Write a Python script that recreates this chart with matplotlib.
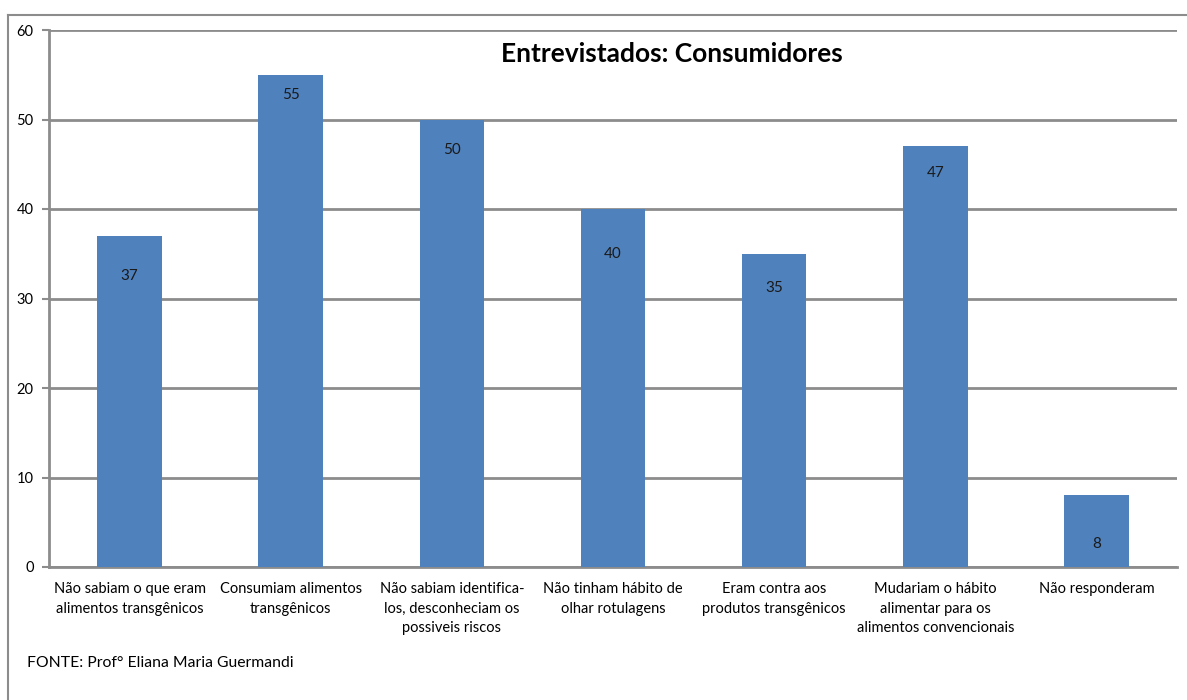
import matplotlib.pyplot as plt
from matplotlib.lines import Line2D

# data
categories = [
    "Não sabiam o que eram\nalimentos transgênicos",
    "Consumiam alimentos\ntransgênicos",
    "Não sabiam identifica-\nlos, desconheciam os\npossiveis riscos",
    "Não tinham hábito de\nolhar rotulagens",
    "Eram contra aos\nprodutos transgênicos",
    "Mudariam o hábito\nalimentar para os\nalimentos convencionais",
    "Não responderam",
]
values = [37, 55, 50, 40, 35, 47, 8]
y_ticks = [0, 10, 20, 30, 40, 50, 60]

plt.rcParams['font.family'] = ['Lato', 'DejaVu Sans']

fig = plt.figure(figsize=(11.87, 7.0), dpi=100)
ax = fig.add_axes([49 / 1187, 133 / 700, 1128 / 1187, 537 / 700])

grid_color = '#8c8c8c'
x = range(len(values))
bars = ax.bar(x, values, width=0.4, color='#4F81BD', zorder=3)

ax.set_xlim(-0.5, len(values) - 0.5)
ax.set_ylim(0, 60)
ax.set_yticks(y_ticks)
ax.set_yticklabels([str(t) for t in y_ticks], fontsize=10.5)
ax.yaxis.grid(True, color=grid_color, linewidth=2, zorder=0)
ax.set_axisbelow(True)
ax.tick_params(axis='y', length=5, width=1.5, color=grid_color, pad=6)
ax.tick_params(axis='x', length=0, pad=11)
ax.set_xticks(list(x))
ax.set_xticklabels(categories, fontsize=10.5, linespacing=1.5, va='top')

for side in ['top', 'right']:
    ax.spines[side].set_visible(False)
for side in ['left', 'bottom']:
    ax.spines[side].set_color(grid_color)
    ax.spines[side].set_linewidth(2)

# value labels sit a little under the top of each bar
label_drop = [-40, -20, -31, -45, -34, -27, -49]
for b, v, d in zip(bars, values, label_drop):
    ax.annotate(str(v), (b.get_x() + b.get_width() / 2, v),
                xytext=(0, d * 0.72), textcoords='offset points',
                ha='center', va='center', fontsize=11, color='#1a1a1a')

ax.text(0.552, 0.955, "Entrevistados: Consumidores", transform=ax.transAxes,
        ha='center', va='center', fontsize=19, fontweight='bold')

fig.text(27 / 1187, 1 - 663 / 700, "FONTE: Prof° Eliana Maria Guermandi",
         ha='left', va='center', fontsize=11.3)

# outer frame of the chart object
fig.add_artist(Line2D([8 / 1187, 8 / 1187], [0, 1 - 15 / 700],
                      color=grid_color, linewidth=1.5, transform=fig.transFigure))
fig.add_artist(Line2D([8 / 1187, 1], [1 - 15 / 700, 1 - 15 / 700],
                      color=grid_color, linewidth=1.5, transform=fig.transFigure))

fig.savefig('out.png', dpi=100)
